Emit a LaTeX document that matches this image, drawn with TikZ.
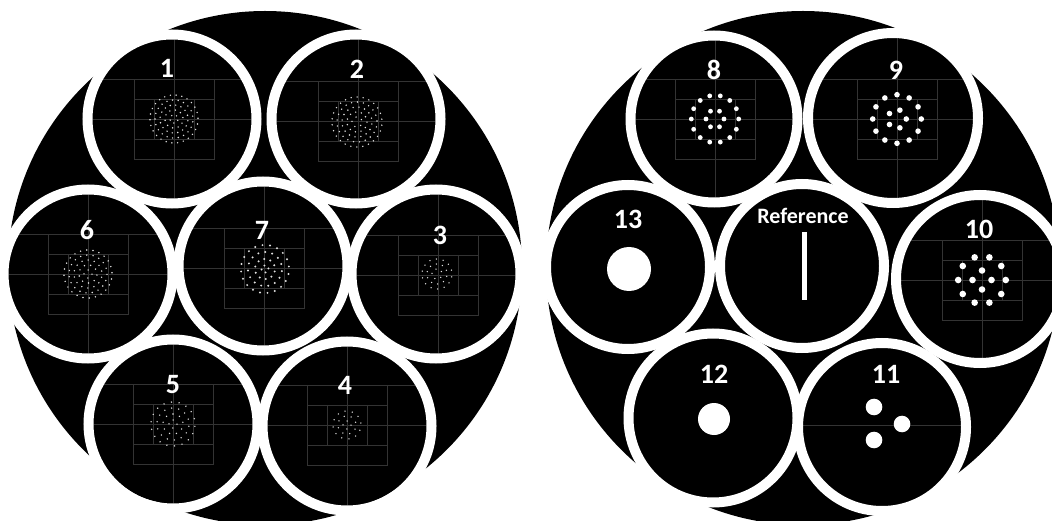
\documentclass[tikz,border=0pt]{standalone}
\usepackage{fontspec}
\newfontfamily\labfont{Carlito}
\definecolor{gridc}{HTML}{333333}
\definecolor{dotc}{HTML}{E0E0E0}
\tikzset{
  ringline/.style={draw=white, line width=10pt},
  gridline/.style={draw=gridc, line width=0.7pt},
  numlab/.style={text=white, inner sep=0pt, font=\labfont\bfseries\fontsize{28}{28}\selectfont},
  reflab/.style={text=white, inner sep=0pt, font=\labfont\bfseries\fontsize{22}{22}\selectfont},
}
% dense dot rings: cx, cy, list radius/count, dot radius
\newcommand\densepat[4]{%
  \foreach \rr/\nn in {#3}{%
    \foreach \kk in {1,...,\nn}{%
      \fill[dotc] (#1,#2) ++({360*\kk/\nn+23*\rr}:\rr) circle[radius=#4];
    }}}
% grid of faint lines: cx, cy
\newcommand\gridpat[2]{%
  \draw[gridline] ({#1-100},#2) -- ({#1+100},#2);
  \draw[gridline] (#1,{#2-100}) -- (#1,{#2+100});
  \draw[gridline] ({#1-100},{#2-40}) -- ({#1+100},{#2-40});
  \draw[gridline] ({#1-40},{#2-40}) rectangle ({#1+40},{#2+40});
  \draw[gridline] ({#1-40},{#2-20}) -- ({#1+40},{#2-20});
  \draw[gridline] ({#1-40},{#2+20}) -- ({#1+40},{#2+20});
  \draw[gridline] ({#1-20},{#2-20}) -- ({#1-20},{#2+20});
  \draw[gridline] ({#1+20},{#2-20}) -- ({#1+20},{#2+20});
}
\begin{document}
\begin{tikzpicture}[x=1pt,y=-1pt]
\useasboundingbox (0,0) rectangle (1052,521);
\clip (0,0) rectangle (1052,521);
\fill[white] (0,0) rectangle (1052,521);
% big discs
\fill[black] (265,268) circle[radius=257];
\fill[black] (803,268) circle[radius=257];
% panel interiors (cx/cy/inner radius)
\foreach \cx/\cy/\ri in {172/119/79.5, 356/119/79.5, 88/274/79.5, 263/266/79.5, 436/274/79.5, 173/424/79.5, 347/426/79.5,
  714/119/78.5, 893/118/80, 628/267/77, 802/266/77, 980/279/79, 713/418/79.5, 882/427/79}{
  \fill[black] (\cx,\cy) circle[radius=\ri];
}
% ---- panel contents, clipped ----
\begin{scope}\clip (172,119) circle[radius=79.5];
  \gridpat{174}{119}\densepat{174}{119}{24/26,19/21,14/16,9/10,4/5}{0.8}\end{scope}
\begin{scope}\clip (356,119) circle[radius=79.5];
  \gridpat{358}{121}\densepat{357}{122}{25/26,20/21,15/16,10/11,5/5}{0.8}\end{scope}
\begin{scope}\clip (88,274) circle[radius=79.5];
  \gridpat{88}{274}\densepat{88}{274}{24/24,19/19,14/14,9/9,4/4}{0.8}\end{scope}
\begin{scope}\clip (263,266) circle[radius=79.5];
  \gridpat{264}{268}\densepat{265}{269}{24/20,17/15,10/10,3.5/4}{1.1}\end{scope}
\begin{scope}\clip (436,274) circle[radius=79.5];
  \gridpat{438}{275}\densepat{437}{274}{15/14,10/10,5/5}{0.75}\end{scope}
\begin{scope}\clip (173,424) circle[radius=79.5];
  \gridpat{173}{424}\densepat{173}{424}{22/18,16/14,10/9,4/4}{0.8}\end{scope}
\begin{scope}\clip (347,426) circle[radius=79.5];
  \gridpat{347}{425}\densepat{347}{425}{14/12,9/8,4/4}{0.75}\end{scope}
% panel 8
\begin{scope}\clip (714,119) circle[radius=78.5];
  \gridpat{715}{119}
  \foreach \k in {0,...,13}{\fill[white] (715,119) ++({\k*360/14}:23.7) circle[radius=2.4];}
  \foreach \k in {0,...,5}{\fill[white] (715,119) ++({\k*60}:9) circle[radius=2.4];}
\end{scope}
% panel 9
\begin{scope}\clip (893,118) circle[radius=80];
  \gridpat{897}{119}
  \foreach \k in {0,...,11}{\fill[white] (897,119) ++({\k*30}:24.3) circle[radius=2.8];}
  \foreach \k in {0,...,4}{\fill[white] (897,119) ++({\k*72}:9.3) circle[radius=2.8];}
\end{scope}
% panel 10
\begin{scope}\clip (980,279) circle[radius=79];
  \gridpat{982}{280}
  \foreach \k in {0,...,9}{\fill[white] (982,280) ++({\k*36}:23.8) circle[radius=3.3];}
  \foreach \k in {0,...,3}{\fill[white] (982,280) ++({\k*90}:9.5) circle[radius=3.3];}
\end{scope}
% panel 11
\begin{scope}\clip (882,427) circle[radius=79];
  \draw[gridline] (780,425) -- (990,425);
  \fill[white] (874,407) circle[radius=8.3];
  \fill[white] (902,424) circle[radius=8.3];
  \fill[white] (874,440) circle[radius=8.3];
\end{scope}
% panel 12
\fill[white] (714,419) circle[radius=16];
% panel 13
\fill[white] (629,269) circle[radius=22];
% reference bar
\fill[white] (801.5,232) rectangle (806.5,300);
% ---- white rings ----
\foreach \cx/\cy/\ri in {172/119/79.5, 356/119/79.5, 88/274/79.5, 263/266/79.5, 436/274/79.5, 173/424/79.5, 347/426/79.5,
  714/119/78.5, 893/118/80, 628/267/77, 802/266/77, 980/279/79, 713/418/79.5, 882/427/79}{
  \draw[ringline] (\cx,\cy) circle[radius={\ri+5}];
}
% ---- labels ----
\node[numlab] (l1) at (167,68) {1};
\node[numlab] (l2) at (357,69) {2};
\node[numlab] (l6) at (87,230) {6};
\node[numlab] (l7) at (262,230) {7};
\node[numlab] (l3) at (440,235) {3};
\node[numlab] (l5) at (173,385) {5};
\node[numlab] (l4) at (345,385) {4};
\node[numlab] (l8) at (714,70) {8};
\node[numlab] (l9) at (896,70) {9};
\node[numlab] (l13) at (628,219) {13};
\node[reflab] (lref) at (803,216) {Reference};
\node[numlab] (l10) at (979,229) {10};
\node[numlab] (l12) at (714,374) {12};
\node[numlab] (l11) at (886,374) {11};
\end{tikzpicture}
\end{document}
